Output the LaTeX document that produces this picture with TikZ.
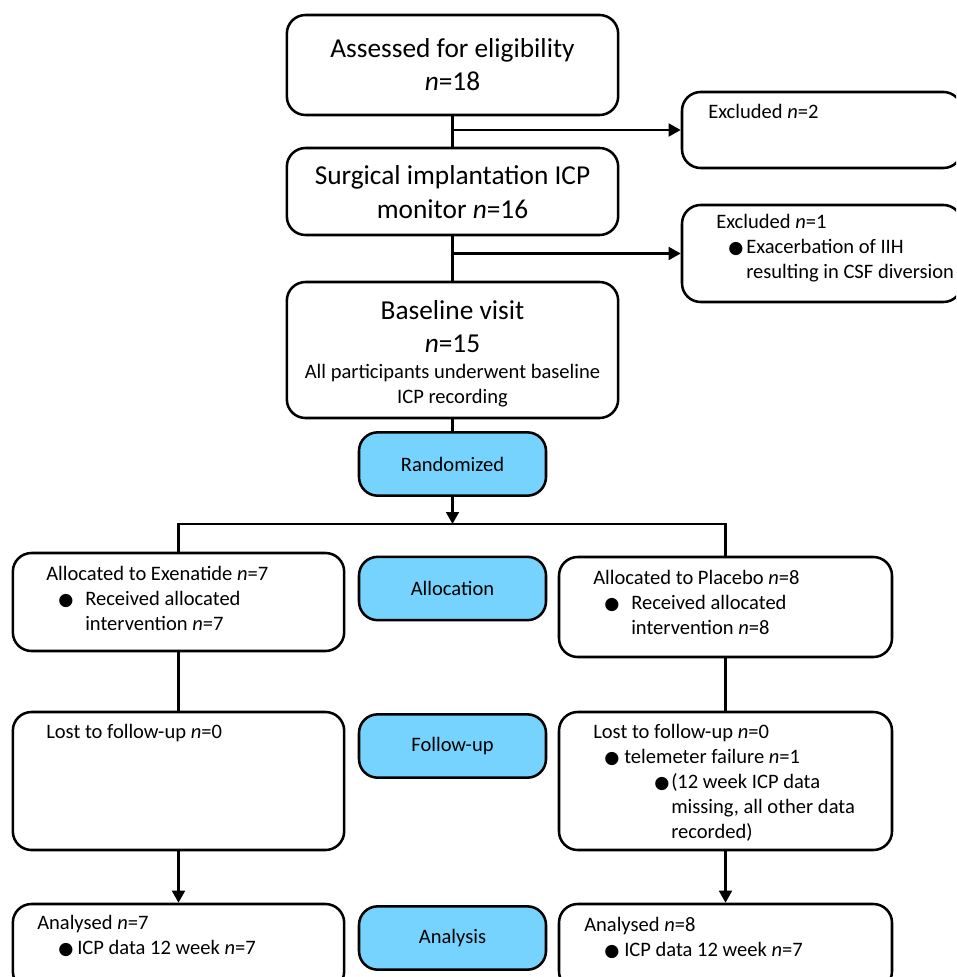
\documentclass[tikz,border=0pt]{standalone}
\usepackage{fontspec}
\setmainfont{Carlito}
\newfontfamily\dejavu{DejaVu Sans}
\usetikzlibrary{arrows.meta}
\definecolor{ink}{HTML}{000000}
\definecolor{stage}{HTML}{76D3FD}
\newlength\pxu
\setlength\pxu{0.75pt}
\newcommand\blt{{\dejavu\fontsize{13}{13}\selectfont ●}}
\newcommand\itm[3]{\hspace*{#1\pxu}\makebox[\dimexpr#2\pxu-#1\pxu\relax][l]{\blt}#3}
\newcommand\ind[1]{\hspace*{#1\pxu}}
\newcommand\nn{\textit{n}}

\begin{document}
\begin{tikzpicture}[x=0.75pt,y=-0.75pt,line width=1.9pt,draw=ink,text=ink,
  >={Triangle[length=9pt,width=9.5pt]},
  bigfont/.style={font=\fontsize{20.5}{24.75}\selectfont},
  smallfont/.style={font=\fontsize{15.4}{18.75}\selectfont},
  flowbox/.style={draw,rounded corners=14pt,inner sep=0pt,
    minimum width=248.5pt,minimum height=#1},
  sidebox/.style={draw,rounded corners=14pt,inner sep=0pt,
    minimum width=210pt,minimum height=#1},
  stagebox/.style={draw,fill=stage,rounded corners=14pt,inner sep=0pt,
    minimum width=140.25pt,minimum height=47.5pt,smallfont},
  ctext/.style={inner sep=0pt,align=center,anchor=base},
  ltext/.style={inner sep=0pt,align=left,anchor=base west,smallfont}]
  \useasboundingbox (0,0) rectangle (956,977);
  \clip (0,0) rectangle (956,977);

  % enrolment column (text nodes sit on the baseline of their last line)
  \node[flowbox=75pt] (assess) at (452.5,65) {};
  \node[flowbox=65.25pt] (surg) at (452.5,191.5) {};
  \node[flowbox=102pt] (base) at (452.5,350) {};
  \node[stagebox] (rand) at (452.5,464) {Randomized};
  \node[ctext,bigfont] (assess-txt) at (452.5,91)
    {Assessed for eligibility\\\nn=18};
  \node[ctext,bigfont] (surg-txt) at (452.5,218)
    {Surgical implantation ICP\\monitor \nn=16};
  \node[ctext,bigfont] (base-txt) at (452.5,352) {Baseline visit\\\nn=15};
  \node[ctext,smallfont] (base-sub) at (452.5,403)
    {All participants underwent baseline\\ICP recording};

  % exclusions
  \node[sidebox=57pt] (excl1) at (822,130) {};
  \node[sidebox=72.75pt] (excl2) at (822,253.5) {};
  \node[ltext] (excl1-txt) at (707,119) {Excluded \nn=2};
  \node[ltext] (excl2-txt) at (715,278)
    {Excluded \nn=1\\
     \itm{12}{30}{Exacerbation of IIH}\\
     \ind{30}resulting in CSF diversion};

  % stage labels
  \node[stagebox] (alloc) at (452.5,588.5) {Allocation};
  \node[stagebox] (follow) at (452.5,746) {Follow-up};
  \node[stagebox] (anal) at (452.5,938) {Analysis};

  % exenatide arm
  \node[flowbox=73.5pt] (allocL) at (178.5,602) {};
  \node[flowbox=103.5pt] (lostL) at (178.5,781) {};
  \node[flowbox=64.5pt] (anaL) at (178.5,947) {};
  \node[ltext] (allocL-txt) at (45,630)
    {Allocated to Exenatide \nn=7\\
     \itm{12}{39}{Received allocated}\\
     \ind{39}intervention \nn=7};
  \node[ltext] (lostL-txt) at (45,738) {Lost to follow-up \nn=0};
  \node[ltext] (anaL-txt) at (36,954)
    {Analysed \nn=7\\
     \itm{21}{40}{ICP data 12 week \nn=7}};

  % placebo arm
  \node[flowbox=75pt,minimum width=249.75pt] (allocR) at (725.5,607) {};
  \node[flowbox=103.5pt,minimum width=249.75pt] (lostR) at (725.5,781) {};
  \node[flowbox=64.5pt,minimum width=249.75pt] (anaR) at (725.5,947) {};
  \node[ltext] (allocR-txt) at (592,634)
    {Allocated to Placebo \nn=8\\
     \itm{11}{38}{Received allocated}\\
     \ind{38}intervention \nn=8};
  \node[ltext] (lostR-txt) at (592,838)
    {Lost to follow-up \nn=0\\
     \itm{11}{31}{telemeter failure \nn=1}\\
     \itm{61}{78}{(12 week ICP data}\\
     \ind{78}missing, all other data\\
     \ind{78}recorded)};
  \node[ltext] (anaR-txt) at (583,956)
    {Analysed \nn=8\\
     \itm{20}{40}{ICP data 12 week \nn=7}};

  % connectors
  \coordinate (split) at (452.5,524);
  \draw (assess) -- (surg);
  \draw[->] (assess.south |- excl1.west) -- (excl1.west);
  \draw (surg) -- (base);
  \draw[->] (surg.south |- excl2.west) -- (excl2.west);
  \draw (base) -- (rand);
  \draw[->] (rand) -- (split);
  \draw (allocL.north) -- (allocL.north |- split) -- (allocR.north |- split)
    -- (allocR.north);
  \draw (allocL) -- (lostL);
  \draw (allocR) -- (lostR);
  \draw[->] (lostL) -- (anaL);
  \draw[->] (lostR) -- (anaR);
\end{tikzpicture}
\end{document}
